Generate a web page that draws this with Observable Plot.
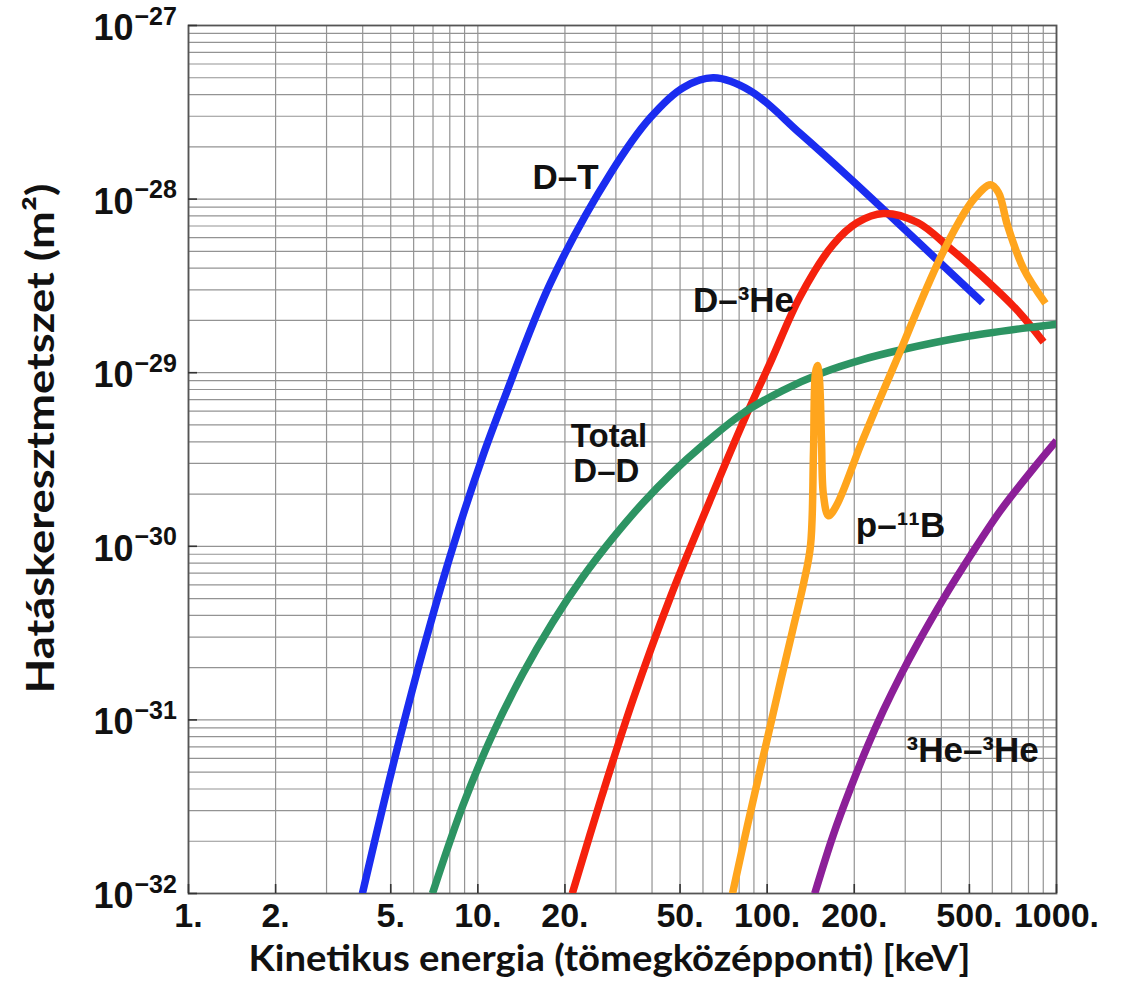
<!DOCTYPE html>
<html>
<head>
<meta charset="utf-8">
<script src="https://cdn.jsdelivr.net/npm/d3@7"></script>
<script src="https://cdn.jsdelivr.net/npm/@observablehq/plot@0.6"></script>
<style>
  html, body { margin: 0; padding: 0; background: #fff; }
</style>
</head>
<body>
<div id="chart"></div>
<script>
// ---- Data ----
// energies in keV (centre-of-mass), cross sections in m^2
const dtE  = [3.99, 5.07, 6.44, 8.17, 10.38, 12.27, 17.8, 28.7, 39.5, 51.4, 65.3, 87.6, 130, 194, 289, 430, 555];
const dtS  = [1e-32, 5.32e-32, 2.46e-31, 9.7e-31, 3.27e-30, 6.92e-30, 3.27e-29, 1.4e-28, 2.95e-28, 4.4e-28, 5.0e-28, 4.2e-28, 2.39e-28, 1.31e-28, 7.05e-29, 3.78e-29, 2.54e-29];

const dheE = [21.2, 26.8, 34.5, 46.3, 63.2, 82.8, 102.7, 130, 169, 205, 252, 331, 430, 559, 733, 902];
const dheS = [1e-32, 3.62e-32, 1.33e-31, 5.1e-31, 1.81e-30, 5.24e-30, 1.15e-29, 2.75e-29, 5.47e-29, 7.33e-29, 8.26e-29, 7.33e-29, 5.19e-29, 3.53e-29, 2.28e-29, 1.5e-29];

const ddE  = [6.97, 8.85, 11.24, 14.27, 18.12, 23.0, 29.2, 37.1, 47.1, 59.8, 82.2, 113.0, 155.4, 213.5, 293.7, 473.3, 763.0, 1000];
const ddS  = [1e-32, 3.17e-32, 8.24e-32, 1.83e-31, 3.64e-31, 6.61e-31, 1.11e-30, 1.77e-30, 2.66e-30, 3.81e-30, 5.82e-30, 7.89e-30, 1.0e-29, 1.19e-29, 1.36e-29, 1.6e-29, 1.8e-29, 1.9e-29];

const pbE  = [75.9, 85.5, 97.1, 109.4, 122.4, 133.6, 141.2, 144.6, 146.9, 149.3, 151.7, 154.1, 156.6, 162.9, 173.7, 210.2, 246.4, 289, 338.8, 397.2, 458.5, 516.7, 591.5, 630.4, 677.1, 769.1, 916.2];
const pbS  = [1e-32, 2.47e-32, 6.24e-32, 1.48e-31, 3.27e-31, 6.1e-31, 1.01e-30, 3.56e-30, 1.0e-29, 1.1e-29, 9.0e-30, 4.06e-30, 1.96e-30, 1.5e-30, 1.72e-30, 3.81e-30, 7.2e-30, 1.34e-29, 2.54e-29, 4.61e-29, 7.33e-29, 9.95e-29, 1.21e-28, 1.09e-28, 7.05e-29, 3.98e-29, 2.51e-29];

const hheE = [146, 169, 194, 222, 252, 289, 331, 407, 504.5, 641, 833, 1000];
const hheS = [1e-32, 2.16e-32, 4.03e-32, 7.03e-32, 1.13e-31, 1.8e-31, 2.75e-31, 5.0e-31, 8.85e-31, 1.61e-30, 2.81e-30, 4.06e-30];

const seriesNames  = ["D-T", "D-3He", "D-D", "3He-3He", "p-11B"];
const seriesColors = ["#1a2cf0", "#f5210d", "#2d9463", "#8c1f98", "#ffa51d"];

// curve labels and their anchor positions (data units)
const labelTexts = ["D\u2013T", "D\u2013\u00B3He", "p\u2013\u00B9\u00B9B", "\u00B3He\u2013\u00B3He"];
const labelE     = [20.1, 82.8, 289, 513];
const labelS     = [1.33e-28, 2.61e-29, 1.32e-30, 6.67e-32];
const ddLabelTexts = ["Total", "D\u2013D"];
const ddLabelE     = [28.4, 27.8];
const ddLabelS     = [4.28e-30, 2.7e-30];

// ticks
const xTicks = [1, 2, 5, 10, 20, 50, 100, 200, 500, 1000];
const xTickLabels = ["1.", "2.", "5.", "10.", "20.", "50.", "100.", "200.", "500.", "1000."];
const yTicks = [1e-32, 1e-31, 1e-30, 1e-29, 1e-28, 1e-27];
const yTickExp = ["\u221232", "\u221231", "\u221230", "\u221229", "\u221228", "\u221227"];

const xTitle = "Kinetikus energia (tömegközépponti) [keV]";
const yTitle = "Hatáskeresztmetszet (m²)";

// ---- build tables ----
const mk = (E, S, name) => E.map((e, i) => ({E: e, S: S[i], name}));
const curves = [
  mk(dtE, dtS, "D-T"),
  mk(dheE, dheS, "D-3He"),
  mk(ddE, ddS, "D-D"),
  mk(hheE, hheS, "3He-3He"),
  mk(pbE, pbS, "p-11B")
];
const labels = labelTexts.map((t, i) => ({t, E: labelE[i], S: labelS[i]}));
const ddLabels = ddLabelTexts.map((t, i) => ({t, E: ddLabelE[i], S: ddLabelS[i]}));

const gridX = [];
for (let d = 1; d <= 100; d *= 10) for (let m = 1; m <= 9; m++) gridX.push(m * d);
gridX.push(1000);
const gridY = [];
for (let p = -32; p < -27; p++) for (let m = 1; m <= 9; m++) gridY.push(m * Math.pow(10, p));
gridY.push(1e-27);

const sans = "'Liberation Sans', Arial, Helvetica, sans-serif";
const titleFont = "Lato, 'Open Sans', sans-serif";

const chart = Plot.plot({
  width: 1125,
  height: 987,
  marginLeft: 188,
  marginRight: 69,
  marginTop: 25,
  marginBottom: 94,
  style: {background: "#fff", fontFamily: sans, color: "#111"},
  x: {type: "log", domain: [1, 1000]},
  y: {type: "log", domain: [1e-32, 1e-27]},
  color: {domain: seriesNames, range: seriesColors},
  marks: [
    Plot.ruleX(gridX, {stroke: "#939393", strokeWidth: 1.2}),
    Plot.ruleY(gridY, {stroke: "#939393", strokeWidth: 1.2}),
    Plot.frame({stroke: "#555", strokeWidth: 1.8}),
    // inward tick marks
    Plot.axisX({ticks: xTicks, tickSize: -9, tickFormat: () => "", label: null, stroke: "#333", strokeWidth: 1.6}),
    Plot.axisY({ticks: yTicks, tickSize: -9, tickFormat: () => "", label: null, stroke: "#333", strokeWidth: 1.6}),
    // curves
    ...curves.map(c => Plot.line(c, {
      x: "E", y: "S", stroke: "name", strokeWidth: 7.5,
      curve: "catmull-rom", clip: true, strokeLinecap: "butt", strokeLinejoin: "round"
    })),
    // curve labels
    Plot.text(labels, {
      x: "E", y: "S", text: "t", fontSize: 35, fontWeight: "bold",
      fill: "#111", textAnchor: "middle", lineAnchor: "middle"
    }),
    Plot.text(ddLabels, {
      x: "E", y: "S", text: "t", fontSize: 33, fontWeight: "bold",
      fill: "#111", textAnchor: "middle", lineAnchor: "middle"
    }),
    // x tick labels
    Plot.text(xTicks, {
      x: d => d, frameAnchor: "bottom", dy: 23, lineAnchor: "middle",
      text: (d, i) => xTickLabels[i], fontSize: 34, fontWeight: "bold", fill: "#111"
    }),
    // y tick labels: base "10" and exponent
    Plot.text(yTicks, {
      y: d => d, frameAnchor: "left", dx: -55, dy: 3, textAnchor: "end", lineAnchor: "middle",
      text: () => "10", fontSize: 36, fontWeight: "bold", fill: "#111"
    }),
    Plot.text(yTicks, {
      y: d => d, frameAnchor: "left", dx: -54, dy: -9, textAnchor: "start", lineAnchor: "middle",
      text: (d, i) => yTickExp[i], fontSize: 25, fontWeight: "bold", fill: "#111"
    }),
    // axis titles
    Plot.text([xTitle], {
      frameAnchor: "bottom", dx: -13, dy: 66, text: d => d, textAnchor: "middle", lineAnchor: "middle",
      fontFamily: titleFont, fontWeight: "bold", fontSize: 36, fill: "#111"
    }),
    Plot.text([yTitle], {
      frameAnchor: "left", dx: -147, dy: -21, rotate: -90, text: d => d, textAnchor: "middle", lineAnchor: "middle",
      fontFamily: titleFont, fontWeight: "bold", fontSize: 38, fill: "#111"
    })
  ]
});

// stretch the two axis titles to the lengths seen in the reference
d3.select(chart).selectAll("text").each(function () {
  const t = this.textContent;
  if (t === xTitle) d3.select(this).attr("textLength", 722).attr("lengthAdjust", "spacingAndGlyphs");
  if (t === yTitle) d3.select(this).attr("textLength", 510).attr("lengthAdjust", "spacingAndGlyphs");
});

document.getElementById("chart").appendChild(chart);
</script>
</body>
</html>
